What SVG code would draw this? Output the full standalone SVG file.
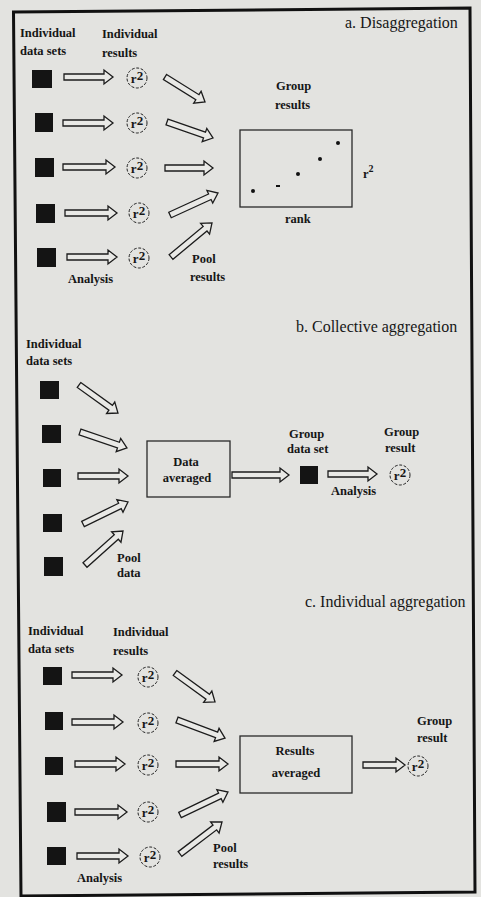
<svg xmlns="http://www.w3.org/2000/svg" width="481" height="897" viewBox="0 0 481 897">
<style>
.bg{fill:#e3e3e0}
.frame{fill:none;stroke:#111;stroke-width:3;stroke-linejoin:miter}
.t{font-family:"Liberation Serif","Times New Roman",serif;font-size:12.5px;font-weight:bold;fill:#161616}
.mid{text-anchor:middle}
.title{font-family:"Liberation Serif","Times New Roman",serif;font-size:16px;fill:#161616}
.sq{fill:#141414}
.ar{fill:#e9e9e6;stroke:#1c1c1c;stroke-width:1.3;stroke-linejoin:miter}
.res{fill:none;stroke:#222;stroke-width:1;stroke-dasharray:3 1.6}
.r2{font-family:"Liberation Serif","Times New Roman",serif;font-size:13px;font-weight:bold;fill:#161616;text-anchor:middle}
.box{fill:none;stroke:#2a2a2a;stroke-width:1.3}
.dot{fill:#111}
</style>

<rect class="bg" x="0" y="0" width="481" height="897"/>
<polygon class="frame" points="13.5,12 470,8 475,892 21,896"/>

<!-- a. Disaggregation -->
<g id="a-title"><text class="title" x="345" y="28">a. Disaggregation</text></g>
<g id="a-labels">
  <text class="t" x="20" y="37">Individual</text>
  <text class="t" x="20" y="55">data sets</text>
  <text class="t" x="102" y="38">Individual</text>
  <text class="t" x="102" y="57">results</text>
  <text class="t" x="68" y="283">Analysis</text>
  <text class="t" x="192" y="263">Pool</text>
  <text class="t" x="190" y="281">results</text>
</g>
<g id="a-data-1"><rect class="sq" x="32" y="70" width="20" height="18"/></g>
<g id="a-data-2"><rect class="sq" x="35" y="113" width="18" height="19"/></g>
<g id="a-data-3"><rect class="sq" x="35" y="158" width="19" height="19"/></g>
<g id="a-data-4"><rect class="sq" x="36" y="204" width="19" height="19"/></g>
<g id="a-data-5"><rect class="sq" x="37" y="248" width="19" height="19"/></g>
<g id="a-res-1"><circle class="res" cx="137" cy="78" r="10"/><text class="r2" x="137" y="83">r<tspan dy="-3">2</tspan></text></g>
<g id="a-res-2"><circle class="res" cx="137" cy="123" r="10"/><text class="r2" x="137" y="128">r<tspan dy="-3">2</tspan></text></g>
<g id="a-res-3"><circle class="res" cx="137" cy="168" r="10"/><text class="r2" x="137" y="173">r<tspan dy="-3">2</tspan></text></g>
<g id="a-res-4"><circle class="res" cx="139" cy="213" r="10"/><text class="r2" x="139" y="218">r<tspan dy="-3">2</tspan></text></g>
<g id="a-res-5"><circle class="res" cx="139" cy="258" r="10"/><text class="r2" x="139" y="263">r<tspan dy="-3">2</tspan></text></g>
<g id="a-group">
  <text class="t" x="276" y="90">Group</text>
  <text class="t" x="275" y="109">results</text>
  <rect class="box" x="240" y="130" width="112" height="77"/>
  <circle class="dot" cx="253" cy="191" r="2"/>
  <rect class="dot" x="276" y="185" width="4" height="2"/>
  <circle class="dot" cx="298" cy="174" r="2"/>
  <circle class="dot" cx="320" cy="159" r="2"/>
  <circle class="dot" cx="338" cy="143" r="2"/>
  <text class="t" x="363" y="178" font-size="14">r<tspan dy="-6" font-size="10">2</tspan></text>
  <text class="t" x="285" y="223">rank</text>
</g>

<!-- b. Collective aggregation -->
<g id="b-title"><text class="title" x="296" y="332">b.  Collective aggregation</text></g>
<g id="b-labels">
  <text class="t" x="26" y="348">Individual</text>
  <text class="t" x="26" y="365">data sets</text>
  <text class="t" x="117" y="562">Pool</text>
  <text class="t" x="117" y="577">data</text>
</g>
<g id="b-data-1"><rect class="sq" x="40" y="381" width="19" height="18"/></g>
<g id="b-data-2"><rect class="sq" x="42" y="425" width="19" height="18"/></g>
<g id="b-data-3"><rect class="sq" x="43" y="469" width="18" height="18"/></g>
<g id="b-data-4"><rect class="sq" x="43" y="514" width="19" height="18"/></g>
<g id="b-data-5"><rect class="sq" x="44" y="557" width="19" height="19"/></g>
<g id="b-averaged">
  <rect class="box" x="147" y="441" width="83" height="56"/>
  <text class="t mid" x="186" y="466">Data</text>
  <text class="t mid" x="187" y="482">averaged</text>
</g>
<g id="b-group-data">
  <text class="t" x="289" y="438">Group</text>
  <text class="t" x="287" y="453">data set</text>
  <rect class="sq" x="300" y="466" width="18" height="18"/>
  <text class="t" x="331" y="495">Analysis</text>
</g>
<g id="b-group-result">
  <text class="t" x="384" y="436">Group</text>
  <text class="t" x="385" y="452">result</text>
  <circle class="res" cx="400" cy="475" r="10"/><text class="r2" x="400" y="480">r<tspan dy="-3">2</tspan></text>
</g>

<!-- c. Individual aggregation -->
<g id="c-title"><text class="title" x="305" y="607">c. Individual aggregation</text></g>
<g id="c-labels">
  <text class="t" x="28" y="635">Individual</text>
  <text class="t" x="28" y="653">data sets</text>
  <text class="t" x="113" y="636">Individual</text>
  <text class="t" x="113" y="655">results</text>
  <text class="t" x="77" y="882">Analysis</text>
  <text class="t" x="213" y="852">Pool</text>
  <text class="t" x="213" y="868">results</text>
</g>
<g id="c-data-1"><rect class="sq" x="43" y="667" width="19" height="18"/></g>
<g id="c-data-2"><rect class="sq" x="45" y="712" width="18" height="18"/></g>
<g id="c-data-3"><rect class="sq" x="45" y="757" width="18" height="18"/></g>
<g id="c-data-4"><rect class="sq" x="47" y="802" width="19" height="20"/></g>
<g id="c-data-5"><rect class="sq" x="47" y="847" width="19" height="18"/></g>
<g id="c-res-1"><circle class="res" cx="148" cy="677" r="10"/><text class="r2" x="148" y="682">r<tspan dy="-3">2</tspan></text></g>
<g id="c-res-2"><circle class="res" cx="148" cy="723" r="10"/><text class="r2" x="148" y="728">r<tspan dy="-3">2</tspan></text></g>
<g id="c-res-3"><circle class="res" cx="148" cy="765" r="10"/><text class="r2" x="148" y="770">r<tspan dy="-3">2</tspan></text></g>
<g id="c-res-4"><circle class="res" cx="148" cy="812" r="10"/><text class="r2" x="148" y="817">r<tspan dy="-3">2</tspan></text></g>
<g id="c-res-5"><circle class="res" cx="150" cy="857" r="10"/><text class="r2" x="150" y="862">r<tspan dy="-3">2</tspan></text></g>
<g id="c-averaged">
  <rect class="box" x="240" y="736" width="112" height="57"/>
  <text class="t mid" x="295" y="755">Results</text>
  <text class="t mid" x="296" y="777">averaged</text>
</g>
<g id="c-group-result">
  <text class="t" x="417" y="725">Group</text>
  <text class="t" x="417" y="742">result</text>
  <circle class="res" cx="418" cy="766" r="10"/><text class="r2" x="418" y="771">r<tspan dy="-3">2</tspan></text>
</g>

<!-- hollow block arrows: each drawn along +x from its tail, then placed -->
<g id="connectors">
  <!-- a: analysis -->
  <path class="ar" transform="translate(64,77)" d="M0,-3H40V-7L49,0L40,7V3H0Z"/>
  <path class="ar" transform="translate(63,123)" d="M0,-3H41V-7L50,0L41,7V3H0Z"/>
  <path class="ar" transform="translate(63,167)" d="M0,-3H43V-7L52,0L43,7V3H0Z"/>
  <path class="ar" transform="translate(65,213)" d="M0,-3H43V-7L52,0L43,7V3H0Z"/>
  <path class="ar" transform="translate(67,257)" d="M0,-3H41V-7L50,0L41,7V3H0Z"/>
  <!-- a: pool results -->
  <path class="ar" transform="translate(165,77) rotate(32)" d="M0,-3H38.2V-7L47.2,0L38.2,7V3H0Z"/>
  <path class="ar" transform="translate(167,122) rotate(19.2)" d="M0,-3H39.7V-7L48.7,0L39.7,7V3H0Z"/>
  <path class="ar" transform="translate(165,168)" d="M0,-3H39V-7L48,0L39,7V3H0Z"/>
  <path class="ar" transform="translate(170,215) rotate(-24.6)" d="M0,-3H43.8V-7L52.8,0L43.8,7V3H0Z"/>
  <path class="ar" transform="translate(171,257) rotate(-39.7)" d="M0,-3H44.3V-7L53.3,0L44.3,7V3H0Z"/>
  <!-- b: pool data -->
  <path class="ar" transform="translate(79,385) rotate(35.7)" d="M0,-3H39V-7L48,0L39,7V3H0Z"/>
  <path class="ar" transform="translate(80,432) rotate(18.8)" d="M0,-3H40.6V-7L49.6,0L40.6,7V3H0Z"/>
  <path class="ar" transform="translate(78,476)" d="M0,-3H41V-7L50,0L41,7V3H0Z"/>
  <path class="ar" transform="translate(83,524) rotate(-26.1)" d="M0,-3H41.1V-7L50.1,0L41.1,7V3H0Z"/>
  <path class="ar" transform="translate(85,565) rotate(-41.8)" d="M0,-3H42V-7L51,0L42,7V3H0Z"/>
  <!-- b: averaged to group data set, then analysis -->
  <path class="ar" transform="translate(232,475)" d="M0,-3H48V-7L57,0L48,7V3H0Z"/>
  <path class="ar" transform="translate(328,474)" d="M0,-3H40V-7L49,0L40,7V3H0Z"/>
  <!-- c: analysis -->
  <path class="ar" transform="translate(72,675)" d="M0,-3H41V-7L50,0L41,7V3H0Z"/>
  <path class="ar" transform="translate(72,722)" d="M0,-3H42V-7L51,0L42,7V3H0Z"/>
  <path class="ar" transform="translate(75,764)" d="M0,-3H41V-7L50,0L41,7V3H0Z"/>
  <path class="ar" transform="translate(75,812)" d="M0,-3H43V-7L52,0L43,7V3H0Z"/>
  <path class="ar" transform="translate(77,856)" d="M0,-3H42V-7L51,0L42,7V3H0Z"/>
  <!-- c: pool results -->
  <path class="ar" transform="translate(175,673) rotate(35.9)" d="M0,-3H40.4V-7L49.4,0L40.4,7V3H0Z"/>
  <path class="ar" transform="translate(177,720) rotate(20.6)" d="M0,-3H42.3V-7L51.3,0L42.3,7V3H0Z"/>
  <path class="ar" transform="translate(176,764)" d="M0,-3H43V-7L52,0L43,7V3H0Z"/>
  <path class="ar" transform="translate(180,815) rotate(-25.6)" d="M0,-3H44.2V-7L53.2,0L44.2,7V3H0Z"/>
  <path class="ar" transform="translate(180,854) rotate(-37.3)" d="M0,-3H43.8V-7L52.8,0L43.8,7V3H0Z"/>
  <!-- c: averaged to group result -->
  <path class="ar" transform="translate(363,765)" d="M0,-3H33V-7L42,0L33,7V3H0Z"/>
</g>
</svg>
